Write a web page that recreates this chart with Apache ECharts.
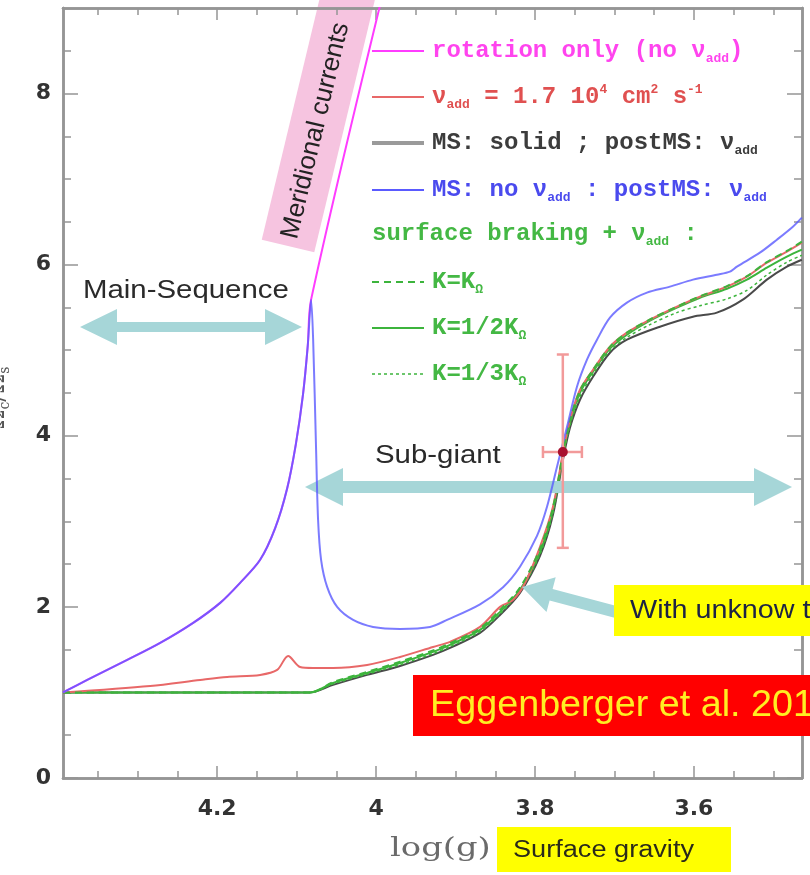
<!DOCTYPE html>
<html>
<head>
<meta charset="utf-8">
<script src="https://cdn.jsdelivr.net/npm/echarts@6/dist/echarts.min.js"></script>
<style>
  html, body { margin: 0; padding: 0; background: #ffffff; }
  #chart { width: 810px; height: 875px; }
</style>
</head>
<body>
<div id="chart"></div>
<script>
// ---- Model tracks: log(g) (abscissa) and core/surface rotation ratio (ordinate) ----

// Rotation only (no additional viscosity): follows the MS track, then climbs off the top
const rotOnlyLogg  = [4.394, 4.3635, 4.3132, 4.2717, 4.2302, 4.1962, 4.1711, 4.1459, 4.1270, 4.1120, 4.1010, 4.0920, 4.0860, 4.0818, 3.988];
const rotOnlyRatio = [1.00, 1.146, 1.380, 1.579, 1.813, 2.047, 2.281, 2.550, 2.920, 3.380, 3.900, 4.480, 5.050, 5.591, 9.30];

// MS: no nu_add ; postMS: nu_add
const msNoAddLogg  = [4.394, 4.3635, 4.3132, 4.2717, 4.2302, 4.1962, 4.1711, 4.1459, 4.1270, 4.1120, 4.1010, 4.0920, 4.0860, 4.0818,
                      4.0792, 4.0755, 4.0730, 4.0692, 4.0616, 4.0490, 4.0289, 4.0038, 3.9698, 3.9321, 3.9107, 3.8692,
                      3.8402, 3.8189, 3.7975, 3.7849, 3.7723, 3.7597, 3.7472, 3.7346, 3.722, 3.7057, 3.6843, 3.6591,
                      3.6302, 3.6012, 3.5711, 3.5547, 3.5459, 3.5170, 3.4956, 3.4755, 3.4642];
const msNoAddRatio = [1.00, 1.146, 1.380, 1.579, 1.813, 2.047, 2.281, 2.550, 2.920, 3.380, 3.900, 4.480, 5.050, 5.591,
                      5.123, 3.836, 3.018, 2.550, 2.234, 2.000, 1.848, 1.766, 1.743, 1.766, 1.848, 2.030,
                      2.230, 2.470, 2.830, 3.170, 3.637, 4.105, 4.573, 4.889, 5.123, 5.380, 5.556, 5.673,
                      5.743, 5.825, 5.883, 5.918, 5.977, 6.140, 6.292, 6.444, 6.550];

// nu_add = 1.7e4 cm2 s-1 throughout
const addLogg  = [4.394, 4.2843, 4.2214, 4.1874, 4.1459, 4.1245, 4.1107, 4.0956, 4.0792, 4.0541, 4.0113, 3.9698,
                  3.9283, 3.9069, 3.8692, 3.8440, 3.8277, 3.8126, 3.7937, 3.7774, 3.7648, 3.7560, 3.7434, 3.7270,
                  3.7057, 3.6843, 3.6553, 3.6214, 3.5925, 3.5585, 3.5333, 3.5082, 3.4830, 3.4642];
const addRatio = [1.00, 1.076, 1.146, 1.181, 1.205, 1.263, 1.427, 1.298, 1.287, 1.287, 1.322, 1.415,
                  1.532, 1.591, 1.766, 2.000, 2.082, 2.280, 2.702, 3.170, 3.801, 4.187, 4.538, 4.772,
                  5.041, 5.205, 5.357, 5.509, 5.626, 5.743, 5.860, 6.023, 6.152, 6.257];

// MS: solid-body ; postMS: nu_add
const solidLogg  = [4.394, 4.083, 4.0541, 4.0113, 3.9698, 3.9283, 3.9069, 3.8692, 3.8440, 3.8189, 3.7937, 3.7774,
                    3.7648, 3.7560, 3.7434, 3.7270, 3.7057, 3.6843, 3.6428, 3.6012, 3.5711, 3.5384, 3.5082, 3.4830, 3.4642];
const solidRatio = [1.00, 1.00, 1.088, 1.205, 1.310, 1.439, 1.520, 1.696, 1.906, 2.164, 2.596, 3.076,
                    3.719, 4.094, 4.421, 4.690, 4.971, 5.123, 5.275, 5.392, 5.439, 5.591, 5.825, 5.977, 6.058];

// Surface braking + nu_add, three braking constants
const brakeLogg     = [4.394, 4.083, 4.0541, 4.0113, 3.9698, 3.9283, 3.9069, 3.8692, 3.8440, 3.8189, 3.7937, 3.7774,
                       3.7648, 3.7560, 3.7434, 3.7270, 3.7057, 3.6843, 3.6553, 3.6214, 3.5925, 3.5585, 3.5333, 3.5082, 3.4830, 3.4642];
const brakeK1Ratio  = [1.00, 1.00, 1.120, 1.240, 1.360, 1.490, 1.575, 1.750, 1.965, 2.225, 2.680, 3.160,
                       3.800, 4.180, 4.530, 4.770, 5.040, 5.205, 5.360, 5.510, 5.630, 5.750, 5.865, 6.030, 6.160, 6.270];
const brakeK2Ratio  = [1.00, 1.00, 1.111, 1.228, 1.345, 1.474, 1.556, 1.731, 1.942, 2.199, 2.643, 3.135,
                       3.778, 4.152, 4.503, 4.749, 5.018, 5.181, 5.345, 5.497, 5.614, 5.719, 5.825, 5.965, 6.094, 6.175];
const brakeK3Ratio  = [1.00, 1.00, 1.100, 1.215, 1.325, 1.455, 1.535, 1.712, 1.920, 2.180, 2.615, 3.100,
                       3.745, 4.120, 4.460, 4.720, 4.995, 5.150, 5.300, 5.440, 5.520, 5.600, 5.700, 5.880, 6.030, 6.110];

// Asteroseismic constraint with error bars
const obsLogg      = [3.765];
const obsRatio     = [3.81];
const obsRatioLow  = [2.69];
const obsRatioHigh = [4.95];
const obsLoggLow   = [3.790];
const obsLoggHigh  = [3.741];

// Axis ticks
const xMajorTicks = [3.6, 3.8, 4.0, 4.2];
const xTickLabels = ['3.6', '3.8', '4', '4.2'];
const xMinorTicks = [3.5, 3.55, 3.65, 3.7, 3.75, 3.85, 3.9, 3.95, 4.05, 4.1, 4.15, 4.25, 4.3, 4.35];
const yMajorTicks = [0, 2, 4, 6, 8];
const yTickLabels = ['0', '2', '4', '6', '8'];
const yMinorTicks = [0.5, 1, 1.5, 2.5, 3, 3.5, 4.5, 5, 5.5, 6.5, 7, 7.5, 8.5];

const X_MIN = 3.464, X_MAX = 4.394, Y_MIN = 0, Y_MAX = 9;

const pairs = (xs, ys) => xs.map((x, i) => [x, ys[i]]);

const AXIS_COLOR = '#959595';
const C_MAGENTA = '#ff3cff';
const C_BLUE = '#5a5aff';
const C_RED = '#e86868';
const C_BLACK = '#4a4a4a';
const C_GREEN = '#3cb43c';
const TEAL = '#a6d6d8';

const SANS = '"Liberation Sans", Arial, sans-serif';
const MONO = '"Liberation Mono", "DejaVu Sans Mono", monospace';

function xAxisDef(position, ticks, len, withLabels) {
  const label = withLabels
    ? { show: true, customValues: xMajorTicks, margin: 20, color: '#333', fontSize: 22, fontWeight: 'bold',
        fontFamily: '"DejaVu Sans", sans-serif',
        formatter: v => xTickLabels[xMajorTicks.findIndex(t => Math.abs(t - v) < 1e-6)] }
    : { show: false };
  return {
    type: 'value', position, min: X_MIN, max: X_MAX, inverse: true,
    axisLine: { show: true, onZero: false, lineStyle: { color: AXIS_COLOR, width: 2.5 } },
    axisTick: { show: true, inside: true, length: len, customValues: ticks, lineStyle: { color: AXIS_COLOR, width: 1.5 } },
    axisLabel: label, splitLine: { show: false }
  };
}
function yAxisDef(position, ticks, len, withLabels) {
  const label = withLabels
    ? { show: true, customValues: yMajorTicks, margin: 12, color: '#333', fontSize: 22, fontWeight: 'bold',
        fontFamily: '"DejaVu Sans", sans-serif',
        formatter: v => yTickLabels[yMajorTicks.findIndex(t => Math.abs(t - v) < 1e-6)] }
    : { show: false };
  return {
    type: 'value', position, min: Y_MIN, max: Y_MAX,
    axisLine: { show: true, onZero: false, lineStyle: { color: AXIS_COLOR, width: 2.5 } },
    axisTick: { show: true, inside: true, length: len, customValues: ticks, lineStyle: { color: AXIS_COLOR, width: 1.5 } },
    axisLabel: label, splitLine: { show: false }
  };
}

function track(name, data, color, width, type, opacity, z) {
  return {
    name, type: 'line', data, xAxisIndex: 0, yAxisIndex: 0, symbol: 'none',
    smooth: 0.3, clip: true, z: z,
    lineStyle: { color, width, type, opacity, join: 'round' }, emphasis: { disabled: true }, silent: true
  };
}

// ---- Legend block (drawn with graphic elements) ----
function richLine(color) {
  return {
    n:   { fontFamily: MONO, fontWeight: 'bold', fontSize: 24, fill: color },
    sub: { fontFamily: MONO, fontWeight: 'bold', fontSize: 13, fill: color, padding: [16, 0, 0, 0] },
    sup: { fontFamily: MONO, fontWeight: 'bold', fontSize: 13, fill: color, padding: [0, 0, 14, 0] }
  };
}
function legendText(x, y, text, color) {
  return { type: 'text', x, y, z: 20, style: { text, rich: richLine(color), verticalAlign: 'middle', align: 'left' } };
}
function legendSample(y, color, width, dash) {
  return { type: 'line', z: 20, shape: { x1: 372, y1: y, x2: 424, y2: y },
           style: { stroke: color, lineWidth: width, lineDash: dash || null } };
}

const legendGraphics = [
  legendSample(51, C_MAGENTA, 2),
  legendText(432, 51, '{n|rotation only (no ν}{sub|add}{n|)}', '#ff44ee'),
  legendSample(97, C_RED, 2),
  legendText(432, 97, '{n|ν}{sub|add}{n| = 1.7 10}{sup|4}{n| cm}{sup|2}{n| s}{sup|-1}', '#e05050'),
  legendSample(143, '#9a9a9a', 4),
  legendText(432, 143, '{n|MS: solid ; postMS: ν}{sub|add}', '#3c3c3c'),
  legendSample(190, C_BLUE, 2),
  legendText(432, 190, '{n|MS: no ν}{sub|add}{n| : postMS: ν}{sub|add}', '#4a4aee'),
  legendText(372, 234, '{n|surface braking + ν}{sub|add}{n| :}', '#44b844'),
  legendSample(282, C_GREEN, 2, [7, 5]),
  legendText(432, 282, '{n|K=K}{sub|Ω}', '#44b844'),
  legendSample(328, C_GREEN, 2),
  legendText(432, 328, '{n|K=1/2K}{sub|Ω}', '#44b844'),
  legendSample(374, C_GREEN, 1.5, [3, 3]),
  legendText(432, 374, '{n|K=1/3K}{sub|Ω}', '#44b844')
];

// ---- Annotations ----
const annotationGraphics = [
  // Meridional currents (rotated pink label)
  {
    type: 'group', x: 288, y: 246, rotation: 76.5 * Math.PI / 180, z: 5,
    children: [
      { type: 'rect', shape: { x: 0, y: -27, width: 320, height: 54 }, style: { fill: '#f6c4e0' } },
      { type: 'text', x: 8, y: 0, style: { text: 'Meridional currents', font: '26px ' + SANS, fill: '#222',
          verticalAlign: 'middle', align: 'left' } }
    ]
  },
  // Main-Sequence double arrow + label
  { type: 'polygon', z: 6, shape: { points: [[80, 327], [117, 309], [117, 322], [265, 322], [265, 309], [302, 327],
      [265, 345], [265, 332], [117, 332], [117, 345]] }, style: { fill: TEAL } },
  { type: 'text', x: 83, y: 291, scaleX: 1.13, z: 6,
    style: { text: 'Main-Sequence', font: '26px ' + SANS, fill: '#2a2a2a', verticalAlign: 'middle' } },
  // Sub-giant double arrow + label
  { type: 'polygon', z: 6, shape: { points: [[305, 487], [343, 468], [343, 481], [754, 481], [754, 468], [792, 487],
      [754, 506], [754, 493], [343, 493], [343, 506]] }, style: { fill: TEAL } },
  { type: 'text', x: 375, y: 456, scaleX: 1.13, z: 6,
    style: { text: 'Sub-giant', font: '26px ' + SANS, fill: '#2a2a2a', verticalAlign: 'middle' } },
  // Unknown transport call-out
  { type: 'polygon', z: 6, shape: { points: [[522, 587], [555.7, 577.3], [552.6, 588.9], [617.5, 606.2], [614.5, 617.8],
      [549.6, 600.5], [546.5, 612.1]] }, style: { fill: TEAL } },
  { type: 'rect', z: 7, shape: { x: 614, y: 585, width: 200, height: 51 }, style: { fill: '#ffff00' } },
  { type: 'text', x: 630, y: 611, scaleX: 1.15, z: 8,
    style: { text: 'With unknow transport', font: '25px ' + SANS, fill: '#1c2244', verticalAlign: 'middle' } },
  // Reference box
  { type: 'rect', z: 7, shape: { x: 413, y: 675, width: 400, height: 61 }, style: { fill: '#ff0000' } },
  { type: 'text', x: 430, y: 706, scaleX: 1.02, z: 8,
    style: { text: 'Eggenberger et al. 2012', font: '37px ' + SANS, fill: '#ffee22', verticalAlign: 'middle' } },
  // Axis titles
  { type: 'text', x: 390, y: 849, scaleX: 1.3, z: 8,
    style: { text: 'log(g)', font: '26px "DejaVu Serif", serif', fill: '#6a6a6a', verticalAlign: 'middle' } },
  { type: 'rect', z: 7, shape: { x: 497, y: 827, width: 234, height: 45 }, style: { fill: '#ffff00' } },
  { type: 'text', x: 513, y: 851, scaleX: 1.18, z: 8,
    style: { text: 'Surface gravity', font: '23px ' + SANS, fill: '#2a2a1a', verticalAlign: 'middle' } },
  { type: 'text', x: -2, y: 398, rotation: Math.PI / 2, z: 8,
    style: { text: '{a|Ω}{s|c}{a|/Ω}{s|s}', align: 'center', verticalAlign: 'middle',
      rich: { a: { font: '24px "DejaVu Serif", serif', fill: '#555' },
              s: { font: '14px "DejaVu Serif", serif', fill: '#555', padding: [14, 0, 0, 0] } } } }
];

const chart = echarts.init(document.getElementById('chart'), null, { renderer: 'canvas' });

chart.setOption({
  backgroundColor: '#ffffff',
  animation: false,
  grid: { left: 63, right: 8, top: 8, bottom: 97, containLabel: false, outerBoundsMode: 'none' },
  xAxis: [
    xAxisDef('bottom', xMajorTicks, 12, true),
    xAxisDef('bottom', xMinorTicks, 7, false),
    xAxisDef('top', xMajorTicks, 12, false),
    xAxisDef('top', xMinorTicks, 7, false)
  ],
  yAxis: [
    yAxisDef('left', yMajorTicks, 15, true),
    yAxisDef('left', yMinorTicks, 8, false),
    yAxisDef('right', yMajorTicks, 15, false),
    yAxisDef('right', yMinorTicks, 8, false)
  ],
  series: [
    track('MS: solid ; postMS: ν_add', pairs(solidLogg, solidRatio), C_BLACK, 2, 'solid', 1, 2),
    track('K=1/3K_Ω', pairs(brakeLogg, brakeK3Ratio), C_GREEN, 1.5, [3, 3], 1, 3),
    track('K=1/2K_Ω', pairs(brakeLogg, brakeK2Ratio), C_GREEN, 2, 'solid', 1, 3),
    track('ν_add = 1.7 10^4 cm^2 s^-1', pairs(addLogg, addRatio), C_RED, 2, 'solid', 1, 4),
    track('K=K_Ω', pairs(brakeLogg, brakeK1Ratio), C_GREEN, 2, [7, 5], 1, 5),
    track('rotation only (no ν_add)', pairs(rotOnlyLogg, rotOnlyRatio), C_MAGENTA, 2, 'solid', 1, 6),
    track('MS: no ν_add ; postMS: ν_add', pairs(msNoAddLogg, msNoAddRatio), C_BLUE, 2, 'solid', 0.8, 7),
    {
      name: 'observed', type: 'custom', xAxisIndex: 0, yAxisIndex: 0, z: 9, silent: true,
      data: obsLogg.map((x, i) => [x, obsRatio[i], obsRatioLow[i], obsRatioHigh[i], obsLoggLow[i], obsLoggHigh[i]]),
      renderItem: function (params, api) {
        const c = api.coord([api.value(0), api.value(1)]);
        const lo = api.coord([api.value(0), api.value(2)]);
        const hi = api.coord([api.value(0), api.value(3)]);
        const l = api.coord([api.value(4), api.value(1)]);
        const r = api.coord([api.value(5), api.value(1)]);
        const st = { stroke: '#f29a9a', lineWidth: 2.5 };
        const cap = 6;
        return {
          type: 'group', children: [
            { type: 'line', shape: { x1: lo[0], y1: lo[1], x2: hi[0], y2: hi[1] }, style: st },
            { type: 'line', shape: { x1: lo[0] - cap, y1: lo[1], x2: lo[0] + cap, y2: lo[1] }, style: st },
            { type: 'line', shape: { x1: hi[0] - cap, y1: hi[1], x2: hi[0] + cap, y2: hi[1] }, style: st },
            { type: 'line', shape: { x1: l[0], y1: l[1], x2: r[0], y2: r[1] }, style: st },
            { type: 'line', shape: { x1: l[0], y1: l[1] - cap, x2: l[0], y2: l[1] + cap }, style: st },
            { type: 'line', shape: { x1: r[0], y1: r[1] - cap, x2: r[0], y2: r[1] + cap }, style: st },
            { type: 'circle', shape: { cx: c[0], cy: c[1], r: 5 }, style: { fill: '#a8102e' } }
          ]
        };
      }
    }
  ],
  graphic: annotationGraphics.concat(legendGraphics)
});
</script>
</body>
</html>
